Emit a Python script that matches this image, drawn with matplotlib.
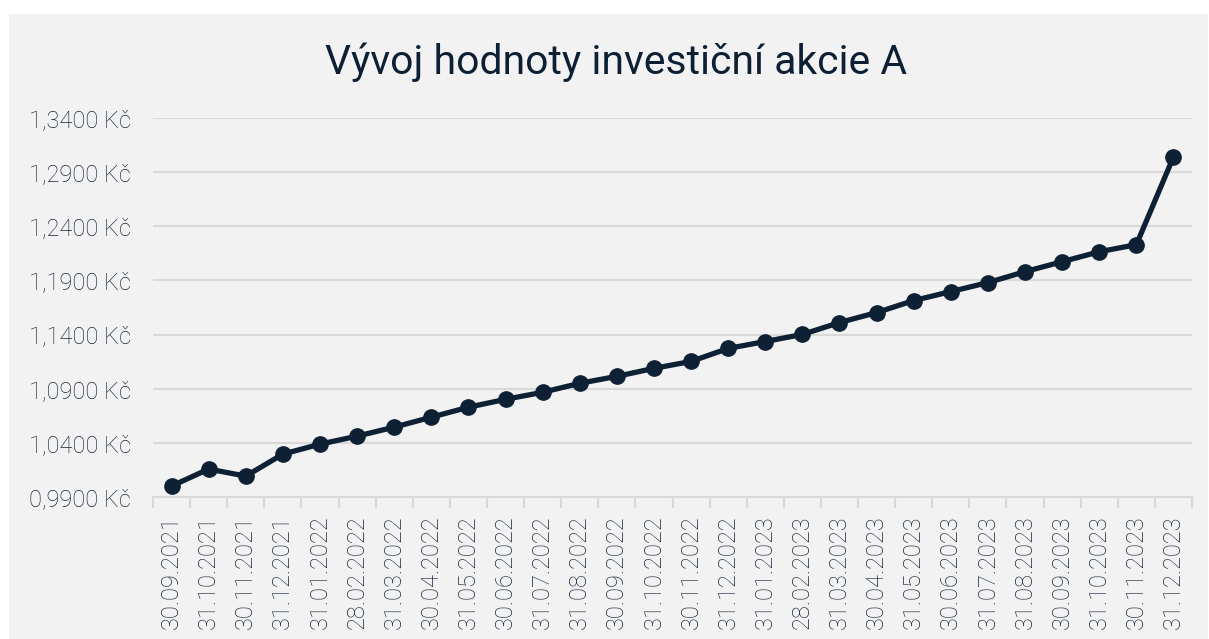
import matplotlib
matplotlib.use("Agg")
import matplotlib.pyplot as plt
from matplotlib.patches import Rectangle
from matplotlib.ticker import FuncFormatter, FixedLocator, NullFormatter

dates = ["30.09.2021", "31.10.2021", "30.11.2021", "31.12.2021", "31.01.2022",
         "28.02.2022", "31.03.2022", "30.04.2022", "31.05.2022", "30.06.2022",
         "31.07.2022", "31.08.2022", "30.09.2022", "31.10.2022", "30.11.2022",
         "31.12.2022", "31.01.2023", "28.02.2023", "31.03.2023", "30.04.2023",
         "31.05.2023", "30.06.2023", "31.07.2023", "31.08.2023", "30.09.2023",
         "31.10.2023", "30.11.2023", "31.12.2023"]
values = [1.0001, 1.0158, 1.0093, 1.0296, 1.0388, 1.0462, 1.0545, 1.0637,
          1.0729, 1.0802, 1.0867, 1.0950, 1.1014, 1.1088, 1.1152, 1.1272,
          1.1336, 1.1401, 1.1511, 1.1603, 1.1714, 1.1797, 1.1880, 1.1981,
          1.2073, 1.2165, 1.2230, 1.3040]
yticks = [0.99, 1.04, 1.09, 1.14, 1.19, 1.24, 1.29, 1.34]
title = "Vývoj hodnoty investiční akcie A"

plt.rcParams['font.family'] = ['Roboto', 'DejaVu Sans']

W, H = 1209, 639
fig = plt.figure(figsize=(W / 100, H / 100), dpi=100, facecolor="white")
fig.patches.append(Rectangle((9 / W, 0), (1208 - 9) / W, (H - 14) / H,
                             transform=fig.transFigure, facecolor="#f2f2f2",
                             edgecolor="none", zorder=-10))

ax = fig.add_axes([153 / W, 1 - 497 / H, (1192 - 153) / W, (497 - 118) / H])
ax.set_zorder(2)
ax.set_facecolor("none")

line_color = "#0d2034"
label_color = "#17263a"
x = list(range(len(dates)))
ax.plot(x, values, color=line_color, linewidth=3.8, marker="o", markersize=11,
        zorder=3, clip_on=False)

ax.set_xlim(-0.5, len(dates) - 0.5)
ax.set_ylim(yticks[0], yticks[-1])
ax.set_yticks(yticks)
ax.yaxis.set_major_formatter(FuncFormatter(lambda v, p: f"{v:.4f}".replace(".", ",") + " Kč"))
ax.grid(axis="y", color="#d9d9d9", linewidth=1.5, zorder=1)
ax.tick_params(axis="y", length=0, pad=16, labelsize=17, labelcolor=label_color)

ax.set_xticks(x)
ax.set_xticklabels(dates, rotation=90, fontsize=17, color=label_color)
ax.tick_params(axis="x", which="major", length=0, pad=13)
ax.xaxis.set_minor_locator(FixedLocator([i - 0.5 for i in range(len(dates) + 1)]))
ax.xaxis.set_minor_formatter(NullFormatter())
ax.tick_params(axis="x", which="minor", length=8, width=1.5, color="#d9d9d9")

for t in ax.get_yticklabels() + ax.get_xticklabels():
    t.set_fontweight("light")

for s in ["top", "right", "left"]:
    ax.spines[s].set_visible(False)
ax.spines["bottom"].set_color("#d9d9d9")
ax.spines["bottom"].set_linewidth(1.5)

fig.text(616 / W, 1 - 62 / H, title, ha="center", va="center", fontsize=29.4,
         color="#0d1f33", fontweight="normal")

fig.savefig("out.png", dpi=100, facecolor=fig.get_facecolor())
